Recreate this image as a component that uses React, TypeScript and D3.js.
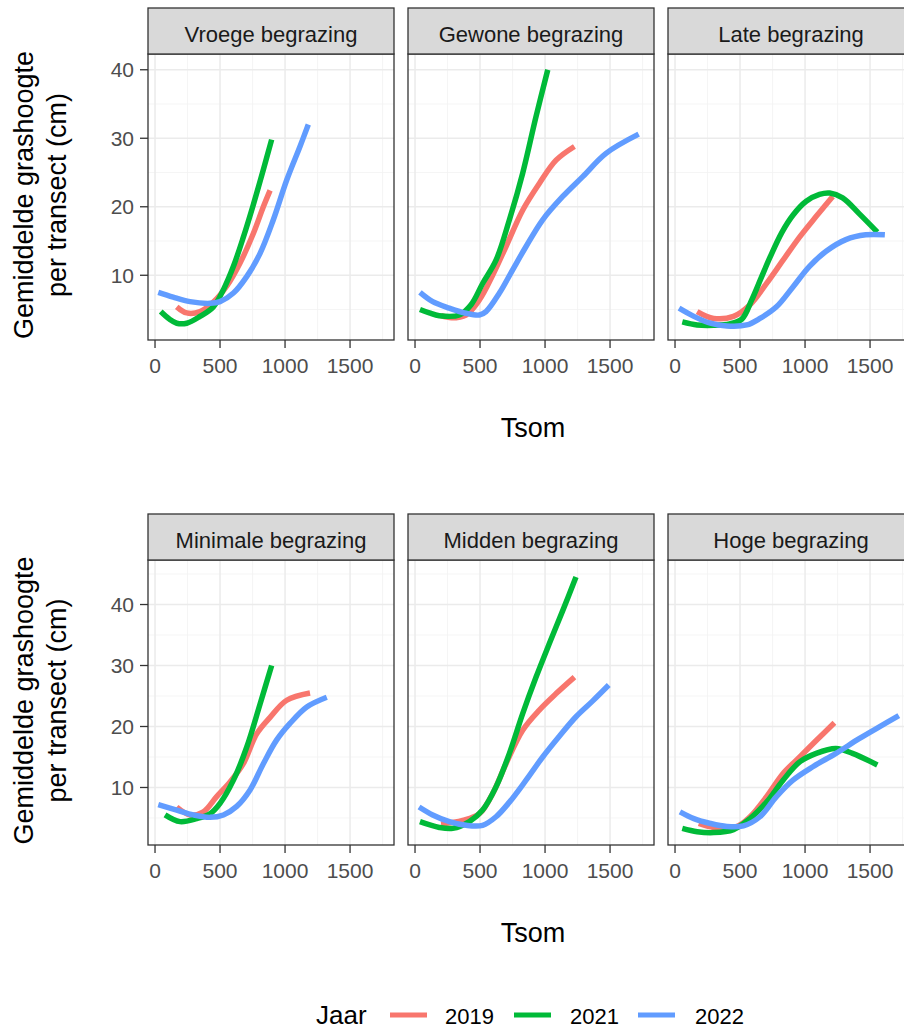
import React from "react";
import * as d3 from "d3";

type Pt = [number, number];

// Facet titles per row, years and their colours
const topFacets = ["Vroege begrazing", "Gewone begrazing", "Late begrazing"];
const bottomFacets = ["Minimale begrazing", "Midden begrazing", "Hoge begrazing"];
const years = ["2019", "2021", "2022"];
const yearColors = ["#F8766D", "#00BA38", "#619CFF"];

// Axis ticks
const xTicks = [0, 500, 1000, 1500];
const xMinorTicks = [250, 750, 1250, 1750];
const yTicks = [10, 20, 30, 40];
const yMinorTicks = [5, 15, 25, 35, 45];

// Smoothed grass height (cm) against temperature sum (Tsom)
const vroege2019: Pt[] = [[167, 5.4], [244, 4.5], [346, 4.7], [449, 6.1], [551, 8.4], [654, 11.8], [756, 16.1], [833, 20.0], [885, 22.4]];
const vroege2021: Pt[] = [[44, 4.7], [110, 3.6], [167, 3.0], [244, 3.0], [346, 4.0], [449, 5.4], [526, 7.9], [603, 11.3], [680, 15.6], [756, 20.3], [833, 25.4], [897, 29.8]];
const vroege2022: Pt[] = [[25, 7.5], [140, 6.8], [269, 6.15], [423, 5.9], [500, 6.15], [603, 7.4], [705, 9.8], [808, 13.2], [910, 18.1], [1013, 23.9], [1115, 28.8], [1179, 32.0]];

const gewone2019: Pt[] = [[200, 4.1], [280, 3.8], [392, 4.2], [495, 6.4], [597, 10.0], [700, 14.2], [828, 19.5], [956, 23.4], [1085, 26.8], [1226, 28.8]];
const gewone2021: Pt[] = [[38, 5.0], [110, 4.5], [187, 4.1], [341, 4.2], [431, 5.7], [520, 8.8], [623, 12.2], [726, 18.1], [828, 24.9], [931, 33.2], [1021, 40.0]];
const gewone2022: Pt[] = [[38, 7.5], [136, 6.15], [264, 5.2], [392, 4.45], [495, 4.2], [546, 4.7], [649, 7.4], [751, 10.8], [854, 14.2], [982, 18.1], [1136, 21.5], [1290, 24.4], [1469, 27.8], [1720, 30.6]];

const late2019: Pt[] = [[170, 4.7], [297, 3.7], [450, 4.0], [577, 5.7], [704, 8.8], [831, 12.2], [959, 15.6], [1086, 18.6], [1213, 21.5]];
const late2021: Pt[] = [[56, 3.2], [170, 2.75], [297, 2.7], [420, 2.9], [514, 3.6], [590, 6.4], [660, 9.5], [730, 12.6], [820, 16.2], [908, 18.8], [1009, 20.8], [1111, 21.8], [1190, 22.0], [1289, 21.3], [1416, 19.0], [1556, 16.3]];
const late2022: Pt[] = [[31, 5.2], [145, 4.0], [272, 3.0], [399, 2.6], [551, 2.75], [653, 3.7], [780, 5.4], [907, 8.3], [1034, 11.3], [1162, 13.5], [1314, 15.2], [1467, 15.9], [1614, 15.9]];

const minimale2019: Pt[] = [[167, 6.8], [269, 5.5], [372, 6.0], [474, 8.5], [577, 10.9], [679, 13.9], [782, 18.8], [885, 21.5], [1013, 24.3], [1192, 25.5]];
const minimale2021: Pt[] = [[77, 5.5], [192, 4.4], [321, 4.9], [423, 5.7], [500, 7.4], [603, 11.2], [705, 16.6], [808, 23.7], [897, 30.0]];
const minimale2022: Pt[] = [[25, 7.2], [167, 6.3], [295, 5.5], [423, 5.1], [526, 5.5], [628, 6.9], [731, 9.6], [833, 13.9], [936, 17.8], [1038, 20.5], [1167, 23.2], [1321, 24.8]];

const midden2019: Pt[] = [[200, 4.0], [367, 4.6], [495, 5.7], [597, 9.0], [700, 13.9], [828, 19.4], [956, 22.7], [1085, 25.4], [1226, 28.1]];
const midden2021: Pt[] = [[38, 4.4], [187, 3.45], [290, 3.3], [418, 4.4], [520, 6.3], [623, 10.1], [726, 15.6], [828, 22.1], [931, 28.1], [1033, 33.6], [1136, 39.0], [1238, 44.5]];
const midden2022: Pt[] = [[31, 6.8], [136, 5.5], [264, 4.4], [392, 3.8], [520, 3.8], [623, 5.2], [726, 7.6], [854, 11.2], [982, 15.0], [1110, 18.4], [1238, 21.6], [1367, 24.2], [1490, 26.8]];

const hoge2019: Pt[] = [[183, 4.1], [297, 3.45], [475, 3.6], [577, 5.2], [704, 8.5], [831, 12.3], [959, 15.0], [1086, 17.7], [1226, 20.6]];
const hoge2021: Pt[] = [[56, 3.3], [170, 2.75], [297, 2.6], [450, 3.1], [577, 4.9], [704, 7.6], [831, 11.2], [959, 14.2], [1086, 15.6], [1238, 16.4], [1365, 15.6], [1556, 13.7]];
const hoge2022: Pt[] = [[38, 6.0], [145, 4.9], [272, 4.1], [399, 3.6], [526, 3.7], [653, 5.2], [780, 8.5], [907, 11.2], [1060, 13.4], [1238, 15.6], [1416, 18.0], [1568, 19.9], [1721, 21.8]];

const topSeries = [
  [vroege2019, vroege2021, vroege2022],
  [gewone2019, gewone2021, gewone2022],
  [late2019, late2021, late2022],
];
const bottomSeries = [
  [minimale2019, minimale2021, minimale2022],
  [midden2019, midden2021, midden2022],
  [hoge2019, hoge2021, hoge2022],
];

const FONT = "'Liberation Sans', Arial, Helvetica, sans-serif";
const W = 904;
const H = 1030;
const PANEL_X = [148, 408, 668];
const PANEL_W = 246;
const X_DOMAIN: [number, number] = [-54, 1838];

type RowProps = {
  id: string;
  facets: string[];
  series: Pt[][][];
  stripTop: number;
  panelTop: number;
  panelBottom: number;
  yDomain: [number, number];
};

function FacetRow({ id, facets, series, stripTop, panelTop, panelBottom, yDomain }: RowProps) {
  const y = d3.scaleLinear().domain(yDomain).range([panelBottom, panelTop]);
  const yMaj = yTicks.filter((t) => t >= yDomain[0] && t <= yDomain[1]);
  const yMin = yMinorTicks.filter((t) => t >= yDomain[0] && t <= yDomain[1]);
  const midY = (panelTop + panelBottom) / 2 - 2;
  return (
    <g>
      {facets.map((name, fi) => {
        const x0 = PANEL_X[fi];
        const x = d3.scaleLinear().domain(X_DOMAIN).range([x0, x0 + PANEL_W]);
        const line = d3
          .line<Pt>()
          .x((d) => x(d[0]))
          .y((d) => y(d[1]))
          .curve(d3.curveCatmullRom.alpha(0.5));
        const clipId = `${id}-clip-${fi}`;
        return (
          <g key={name}>
            <defs>
              <clipPath id={clipId}>
                <rect x={x0} y={panelTop} width={PANEL_W} height={panelBottom - panelTop} />
              </clipPath>
            </defs>
            <rect x={x0} y={panelTop} width={PANEL_W} height={panelBottom - panelTop} fill="#FFFFFF" />
            {/* minor grid */}
            {xMinorTicks.map((t) => (
              <line key={`xm${t}`} x1={x(t)} x2={x(t)} y1={panelTop} y2={panelBottom} stroke="#F3F3F3" strokeWidth={0.8} />
            ))}
            {yMin.map((t) => (
              <line key={`ym${t}`} x1={x0} x2={x0 + PANEL_W} y1={y(t)} y2={y(t)} stroke="#F3F3F3" strokeWidth={0.8} />
            ))}
            {/* major grid */}
            {xTicks.map((t) => (
              <line key={`xg${t}`} x1={x(t)} x2={x(t)} y1={panelTop} y2={panelBottom} stroke="#EBEBEB" strokeWidth={1.5} />
            ))}
            {yMaj.map((t) => (
              <line key={`yg${t}`} x1={x0} x2={x0 + PANEL_W} y1={y(t)} y2={y(t)} stroke="#EBEBEB" strokeWidth={1.5} />
            ))}
            <g clipPath={`url(#${clipId})`}>
              {series[fi].map((pts, si) => (
                <path
                  key={years[si]}
                  d={line(pts) || ""}
                  fill="none"
                  stroke={yearColors[si]}
                  strokeWidth={5.5}
                  strokeLinejoin="round"
                />
              ))}
            </g>
            <rect
              x={x0}
              y={panelTop}
              width={PANEL_W}
              height={panelBottom - panelTop}
              fill="none"
              stroke="#333333"
              strokeWidth={1.3}
            />
            {/* strip */}
            <rect
              x={x0}
              y={stripTop}
              width={PANEL_W}
              height={panelTop - stripTop}
              fill="#D9D9D9"
              stroke="#333333"
              strokeWidth={1.3}
            />
            <text
              x={x0 + PANEL_W / 2}
              y={stripTop + 34}
              textAnchor="middle"
              fontFamily={FONT}
              fontSize={22}
              fill="#1A1A1A"
            >
              {name}
            </text>
            {/* x axis */}
            {xTicks.map((t) => (
              <g key={`xt${t}`}>
                <line x1={x(t)} x2={x(t)} y1={panelBottom} y2={panelBottom + 8} stroke="#333333" strokeWidth={1.3} />
                <text
                  x={x(t)}
                  y={panelBottom + 33}
                  textAnchor="middle"
                  fontFamily={FONT}
                  fontSize={21}
                  fill="#4D4D4D"
                >
                  {t}
                </text>
              </g>
            ))}
          </g>
        );
      })}
      {/* y axis on the first facet */}
      {yMaj.map((t) => (
        <g key={`yt${t}`}>
          <line x1={PANEL_X[0] - 8} x2={PANEL_X[0]} y1={y(t)} y2={y(t)} stroke="#333333" strokeWidth={1.3} />
          <text
            x={PANEL_X[0] - 14}
            y={y(t)}
            dy="0.36em"
            textAnchor="end"
            fontFamily={FONT}
            fontSize={21}
            fill="#4D4D4D"
          >
            {t}
          </text>
        </g>
      ))}
      <text transform={`translate(33,${midY}) rotate(-90)`} textAnchor="middle" fontFamily={FONT} fontSize={27} fill="#000">
        Gemiddelde grashoogte
      </text>
      <text transform={`translate(66,${midY}) rotate(-90)`} textAnchor="middle" fontFamily={FONT} fontSize={27} fill="#000">
        per transect (cm)
      </text>
      <text
        x={(PANEL_X[0] + PANEL_X[2] + PANEL_W) / 2 + 2}
        y={panelBottom + 97}
        textAnchor="middle"
        fontFamily={FONT}
        fontSize={27}
        fill="#000"
      >
        Tsom
      </text>
    </g>
  );
}

export default function App() {
  return (
    <svg
      width={W}
      height={H}
      viewBox={`0 0 ${W} ${H}`}
      style={{ position: "absolute", left: 0, top: 0, background: "#FFFFFF" }}
    >
      <rect x={0} y={0} width={W} height={H} fill="#FFFFFF" />
      <FacetRow
        id="top"
        facets={topFacets}
        series={topSeries}
        stripTop={8}
        panelTop={54}
        panelBottom={340}
        yDomain={[0.55, 42.3]}
      />
      <FacetRow
        id="bottom"
        facets={bottomFacets}
        series={bottomSeries}
        stripTop={514}
        panelTop={560}
        panelBottom={845}
        yDomain={[0.57, 47.3]}
      />
      {/* legend */}
      <g fontFamily={FONT}>
        <text x={316} y={1024} fontSize={26} fill="#000">
          Jaar
        </text>
        {years.map((yr, i) => (
          <g key={yr}>
            <line x1={390 + i * 124} x2={427 + i * 124} y1={1015} y2={1015} stroke={yearColors[i]} strokeWidth={5} />
            <text x={445 + i * 125} y={1024} fontSize={22} fill="#000">
              {yr}
            </text>
          </g>
        ))}
      </g>
    </svg>
  );
}
